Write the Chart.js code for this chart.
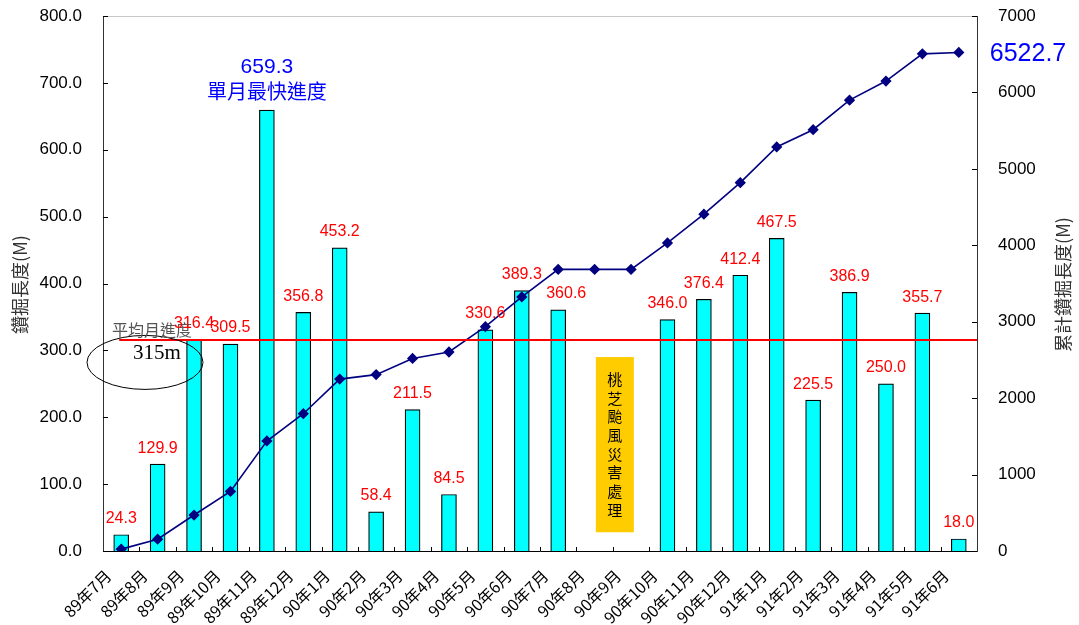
<!DOCTYPE html>
<html>
<head>
<meta charset="utf-8">
<script src="https://cdn.jsdelivr.net/npm/chart.js@4/dist/chart.umd.min.js"></script>
<style>
    html, body { margin: 0; padding: 0; background: #fff; }
    .wrap { width: 1079px; height: 625px; position: relative; }
</style>
</head>
<body>
<div class="wrap"><canvas class="drillChart"></canvas></div>
<script>
const drillChart = document.querySelector('.drillChart');

// months on the x axis
const months = ['89年7月', '89年8月', '89年9月', '89年10月', '89年11月', '89年12月',
    '90年1月', '90年2月', '90年3月', '90年4月', '90年5月', '90年6月', '90年7月',
    '90年8月', '90年9月', '90年10月', '90年11月', '90年12月',
    '91年1月', '91年2月', '91年3月', '91年4月', '91年5月', '91年6月'];

// monthly drilled length (M), no work in 90年8月 and 90年9月
const monthlyLength = [24.3, 129.9, 316.4, 309.5, 659.3, 356.8, 453.2, 58.4, 211.5, 84.5,
    330.6, 389.3, 360.6, null, null, 346.0, 376.4, 412.4, 467.5, 225.5, 386.9, 250.0, 355.7, 18.0];

// accumulated length (M)
const totalLength = [24.3, 154.2, 470.6, 780.1, 1439.4, 1796.2, 2249.4, 2307.8, 2519.3, 2603.8,
    2934.4, 3323.7, 3684.3, 3684.3, 3684.3, 4030.3, 4406.7, 4819.1, 5286.6, 5512.1, 5899.0,
    6149.0, 6504.7, 6522.7];

const leftTicks = [0, 100, 200, 300, 400, 500, 600, 700, 800];
const rightTicks = [0, 1000, 2000, 3000, 4000, 5000, 6000, 7000];

const averageMonth = 315;
const fastestIndex = 4;
const typhoonText = '桃芝颱風災害處理';

const fontLatin = 'Arial, "Liberation Sans", sans-serif';
const fontCjk = '"Noto Sans CJK TC", "Noto Sans", sans-serif';

function drawLine(ctx, x1, y1, x2, y2, color, width) {
    ctx.save();
    ctx.strokeStyle = color;
    ctx.lineWidth = width;
    ctx.beginPath();
    ctx.moveTo(x1, y1);
    ctx.lineTo(x2, y2);
    ctx.stroke();
    ctx.restore();
}

//alle extra tekst en lijnen
const extras = {
    id: 'extras',
    afterDatasetsDraw(chart) {
        const ctx = chart.ctx;
        const area = chart.chartArea;
        const x = chart.scales.x;
        const y = chart.scales.y;
        const y1 = chart.scales.y1;
        ctx.save();

        // top border + inner ticks
        drawLine(ctx, area.left, area.top + 0.5, area.right, area.top + 0.5, '#c8c8c8', 1);
        leftTicks.forEach(v => {
            const py = Math.round(y.getPixelForValue(v)) + 0.5;
            drawLine(ctx, area.left, py, area.left + 5, py, '#000', 1);
        });
        rightTicks.forEach(v => {
            const py = Math.round(y1.getPixelForValue(v)) + 0.5;
            drawLine(ctx, area.right - 5, py, area.right, py, '#000', 1);
        });
        for (let i = 1; i < months.length; i++) {
            const px = Math.round((x.getPixelForValue(i - 1) + x.getPixelForValue(i)) / 2) + 0.5;
            drawLine(ctx, px, area.bottom, px, area.bottom - 4, '#000', 1);
        }

        // average line
        const avgY = Math.round(y.getPixelForValue(averageMonth));
        drawLine(ctx, x.getPixelForValue(0) - 2, avgY, area.right, avgY, 'rgb(255,0,0)', 2);

        ctx.strokeStyle = '#000';
        ctx.lineWidth = 1;
        ctx.beginPath();
        ctx.ellipse(area.left + 42, y.getPixelForValue(282), 58, 27, 0, 0, Math.PI * 2);
        ctx.stroke();

        ctx.textAlign = 'center';
        ctx.textBaseline = 'middle';
        ctx.fillStyle = '#555';
        ctx.font = '16px ' + fontCjk;
        ctx.fillText('平均月進度', area.left + 49, y.getPixelForValue(331));
        ctx.fillStyle = '#000';
        ctx.font = '21px "Liberation Serif", "DejaVu Serif", serif';
        ctx.fillText(averageMonth + 'm', area.left + 54, y.getPixelForValue(296));

        // bar labels
        const bars = chart.getDatasetMeta(1).data;
        ctx.font = '16px ' + fontLatin;
        ctx.fillStyle = '#ff0000';
        bars.forEach((bar, i) => {
            const v = monthlyLength[i];
            if (v === null || i === fastestIndex) return;
            const dx = i === 12 ? 8 : 0;
            ctx.fillText(v.toFixed(1), bar.x + dx, bar.y - 16);
        });

        // fastest month
        const fast = bars[fastestIndex];
        ctx.fillStyle = '#0000ff';
        ctx.font = '21px ' + fontLatin;
        ctx.fillText(monthlyLength[fastestIndex].toFixed(1), fast.x, fast.y - 43);
        ctx.font = '20px ' + fontCjk;
        ctx.fillText('單月最快進度', fast.x, fast.y - 19);

        // last total
        const points = chart.getDatasetMeta(0).data;
        const last = points[points.length - 1];
        ctx.textAlign = 'left';
        ctx.font = '25px ' + fontLatin;
        ctx.fillText(totalLength[totalLength.length - 1].toFixed(1), last.x + 31, last.y + 2);

        // typhoon box
        const boxX = (x.getPixelForValue(13) + x.getPixelForValue(14)) / 2 + 2;
        const boxTop = y.getPixelForValue(290);
        const boxBottom = y.getPixelForValue(28);
        ctx.fillStyle = '#ffcc00';
        ctx.fillRect(boxX - 19, boxTop, 38, boxBottom - boxTop);
        ctx.fillStyle = '#000';
        ctx.textAlign = 'center';
        ctx.font = '15px ' + fontCjk;
        const chars = typhoonText.split('');
        const step = 18.7;
        const startY = (boxTop + boxBottom) / 2 - step * (chars.length - 1) / 2;
        chars.forEach((c, i) => ctx.fillText(c, boxX, startY + i * step));

        // axis titles
        ctx.fillStyle = '#333';
        ctx.font = '18px ' + fontCjk;
        ctx.save();
        ctx.translate(20, (area.top + area.bottom) / 2 + 1);
        ctx.rotate(-Math.PI / 2);
        ctx.fillText('鑽掘長度(M)', 0, 0);
        ctx.restore();
        ctx.save();
        ctx.translate(1063, (area.top + area.bottom) / 2 + 1);
        ctx.rotate(-Math.PI / 2);
        ctx.fillText('累計鑽掘長度(M)', 0, 0);
        ctx.restore();

        ctx.restore();
    }
};

new Chart(drillChart, {
    type: 'bar',
    data: {
        labels: months,
        datasets: [{
            type: 'line',
            label: 'total',
            data: totalLength,
            yAxisID: 'y1',
            borderColor: '#000080',
            backgroundColor: '#000080',
            borderWidth: 1.6,
            pointStyle: 'rectRot',
            pointRadius: 4.5,
            pointBackgroundColor: '#000080',
            pointBorderColor: '#000080',
            tension: 0
        }, {
            label: 'month',
            data: monthlyLength,
            yAxisID: 'y',
            backgroundColor: '#00ffff',
            borderColor: '#000',
            borderWidth: 1.2,
            barThickness: 15
        }]
    },
    options: {
        responsive: true,
        maintainAspectRatio: false,
        animation: false,
        layout: { padding: { top: 16, left: 0, right: 0, bottom: 0 } },
        plugins: {
            legend: { display: false },
            tooltip: { enabled: false }
        },
        scales: {
            x: {
                offset: true,
                grid: { display: false },
                border: { display: true, color: '#000', width: 1 },
                ticks: {
                    color: '#000',
                    font: { size: 16, family: fontCjk },
                    minRotation: 45,
                    maxRotation: 45,
                    labelOffset: -13,
                    padding: 7,
                    autoSkip: false
                },
                afterFit: s => { s.height = 74; }
            },
            y: {
                position: 'left',
                min: 0,
                max: 800,
                grid: { display: false },
                border: { display: true, color: '#333', width: 1 },
                afterBuildTicks: s => { s.ticks = leftTicks.map(v => ({ value: v })); },
                ticks: {
                    color: '#000',
                    font: { size: 17, family: fontLatin },
                    padding: 13,
                    callback: v => Number(v).toFixed(1)
                },
                afterFit: s => { s.width = 103; s.paddingTop = 0; s.paddingBottom = 0; }
            },
            y1: {
                position: 'right',
                min: 0,
                max: 7000,
                grid: { display: false },
                border: { display: true, color: '#333', width: 1 },
                afterBuildTicks: s => { s.ticks = rightTicks.map(v => ({ value: v })); },
                ticks: {
                    color: '#000',
                    font: { size: 17, family: fontLatin },
                    padding: 13,
                    callback: v => String(v)
                },
                afterFit: s => { s.width = 102; s.paddingTop = 0; s.paddingBottom = 0; }
            }
        }
    },
    plugins: [extras]
});
</script>
</body>
</html>
